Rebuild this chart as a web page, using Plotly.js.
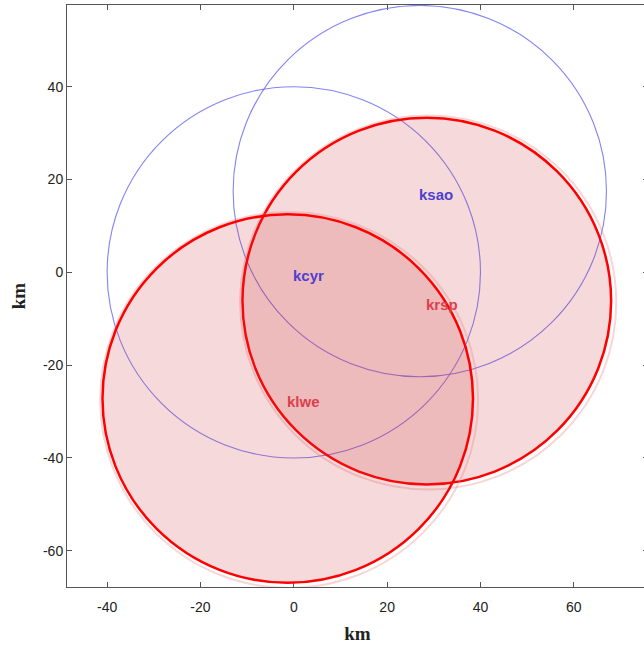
<!DOCTYPE html>
<html>
<head>
<meta charset="utf-8">
<script src="https://cdn.plot.ly/plotly-3.0.1.min.js"></script>
<style>
  html, body { margin: 0; padding: 0; overflow: hidden; background: #fff; }
  #chart { width: 648px; height: 649px; }
</style>
</head>
<body>
<div id="chart"></div>
<script>
// Radar coverage rings (km from kcyr)
const blueNames = ['kcyr', 'ksao'];
const blueX = [0, 27];
const blueY = [0, 17.5];
const blueR = [40, 40];

const redNames = ['krsp', 'klwe'];
const redX = [28.5, -1.3];
const redY = [-6.2, -27.2];
const redR = [39.5, 39.7];

const xTicks = [-40, -20, 0, 20, 40, 60];
const xTickText = ['-40', '-20', '0', '20', '40', '60'];
const yTicks = [-60, -40, -20, 0, 20, 40];
const yTickText = ['-60', '-40', '-20', '0', '20', '40'];

const shapes = [];
const annotations = [];

function ring(cx, cy, r, extra) {
  return Object.assign({
    type: 'circle', xref: 'x', yref: 'y',
    x0: cx - r, x1: cx + r, y0: cy - r, y1: cy + r
  }, extra);
}

// outline-only rings
blueNames.forEach((n, i) => {
  shapes.push(ring(blueX[i], blueY[i], blueR[i], {
    line: { color: 'rgba(100,100,240,0.8)', width: 1.1 },
    fillcolor: 'rgba(0,0,0,0)'
  }));
  annotations.push({
    x: blueX[i], y: blueY[i], xref: 'x', yref: 'y', text: '<b>' + n + '</b>',
    showarrow: false, xanchor: 'left', yanchor: 'middle', yshift: -3, xshift: -3,
    font: { family: 'Liberation Sans, Arial, sans-serif', size: 15, color: 'rgb(80,65,205)' }
  });
});

// filled rings with a soft halo
redNames.forEach((n, i) => {
  shapes.push(ring(redX[i] + 0.3, redY[i] - 0.3, redR[i] + 0.8, {
    line: { color: 'rgba(225,120,120,0.3)', width: 2 },
    fillcolor: 'rgba(0,0,0,0)'
  }));
  shapes.push(ring(redX[i], redY[i], redR[i], {
    line: { color: '#ff0000', width: 2.5 },
    fillcolor: 'rgba(205,50,55,0.18)'
  }));
  annotations.push({
    x: redX[i], y: redY[i], xref: 'x', yref: 'y', text: '<b>' + n + '</b>',
    showarrow: false, xanchor: 'left', yanchor: 'middle', yshift: -3, xshift: -3,
    font: { family: 'Liberation Sans, Arial, sans-serif', size: 15, color: 'rgb(220,65,75)' }
  });
});

const axisCommon = {
  showgrid: false, zeroline: false,
  showline: true, linecolor: '#555', linewidth: 1, mirror: 'ticks',
  ticks: 'inside', ticklen: 5, tickcolor: '#555', tickwidth: 1,
  tickfont: { family: 'Liberation Sans, Arial, sans-serif', size: 14, color: '#222' }
};

const layout = {
  width: 648, height: 649,
  margin: { l: 67, r: 0, t: 5, b: 62 },
  paper_bgcolor: '#fff', plot_bgcolor: '#fff',
  showlegend: false,
  xaxis: Object.assign({}, axisCommon, {
    range: [-48.6, 75.9], tickvals: xTicks, ticktext: xTickText,
    ticklabelstandoff: 7,
    title: { text: '<b>km</b>', standoff: 12, font: { family: 'Liberation Serif, Times New Roman, serif', size: 19, color: '#222' } }
  }),
  yaxis: Object.assign({}, axisCommon, {
    range: [-67.8, 57.6], tickvals: yTicks, ticktext: yTickText,
    title: { text: '<b>km</b>', standoff: 12, font: { family: 'Liberation Serif, Times New Roman, serif', size: 19, color: '#222' } }
  }),
  shapes: shapes,
  annotations: annotations
};

// empty trace so the axes render
Plotly.newPlot('chart', [{ x: [], y: [], type: 'scatter', mode: 'markers' }], layout,
  { displayModeBar: false, staticPlot: true });
</script>
</body>
</html>
